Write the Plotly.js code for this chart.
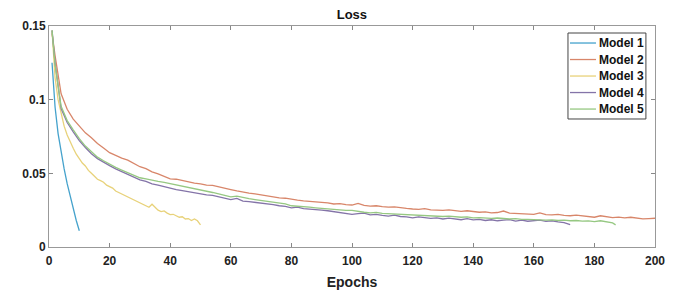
<!DOCTYPE html>
<html>
<head>
<meta charset="utf-8">
<script src="https://cdn.plot.ly/plotly-3.0.1.min.js"></script>
<style>
  html, body { margin: 0; padding: 0; background: #fff; }
  #chart { width: 680px; height: 291px; }
</style>
</head>
<body>
<div id="chart"></div>
<script>
// ---- Data ----
const seriesNames = ["Model 1", "Model 2", "Model 3", "Model 4", "Model 5"];

const epochsM1 = [1, 2, 3, 4, 5, 6, 7, 8, 9, 10];
const lossM1 = [0.125, 0.095, 0.077, 0.064, 0.053, 0.043, 0.034, 0.026, 0.018, 0.011];

function seq(a, b, s) { const r = []; for (let v = a; v <= b; v += s) r.push(v); return r; }

const epochsM2 = [1].concat(seq(2, 200, 2));
const lossM2 = [
  0.1450, 0.1300, 0.1040, 0.0935, 0.0868, 0.0822, 0.0775, 0.0742, 0.0703, 0.0672,
  0.0640, 0.0622, 0.0603, 0.0590, 0.0568, 0.0545, 0.0532, 0.0510, 0.0496, 0.0481,
  0.0462, 0.0460, 0.0450, 0.0441, 0.0434, 0.0428, 0.0420, 0.0418, 0.0407, 0.0398,
  0.0390, 0.0381, 0.0372, 0.0366, 0.0360, 0.0352, 0.0345, 0.0341, 0.0333, 0.0331,
  0.0322, 0.0318, 0.0313, 0.0310, 0.0307, 0.0300, 0.0299, 0.0292, 0.0294, 0.0287,
  0.0285, 0.0296, 0.0282, 0.0278, 0.0280, 0.0274, 0.0270, 0.0272, 0.0265, 0.0262,
  0.0258, 0.0255, 0.0260, 0.0252, 0.0250, 0.0248, 0.0252, 0.0245, 0.0242, 0.0246,
  0.0240, 0.0236, 0.0238, 0.0232, 0.0234, 0.0244, 0.0230, 0.0228, 0.0231, 0.0225,
  0.0222, 0.0232, 0.0220, 0.0218, 0.0221, 0.0215, 0.0212, 0.0216, 0.0210, 0.0206,
  0.0202, 0.0212, 0.0205, 0.0200, 0.0203, 0.0198, 0.0202, 0.0195, 0.0191, 0.0193,
  0.0195
];

const epochsM3 = seq(1, 50, 1);
const lossM3 = [
  0.147, 0.115, 0.100, 0.090, 0.082, 0.076, 0.071, 0.067, 0.063, 0.060,
  0.057, 0.055, 0.052, 0.050, 0.048, 0.046, 0.045, 0.044, 0.042, 0.041,
  0.040, 0.038, 0.037, 0.036, 0.035, 0.034, 0.033, 0.032, 0.031, 0.030,
  0.029, 0.028, 0.027, 0.029, 0.027, 0.025, 0.024, 0.0245, 0.023, 0.022,
  0.0222, 0.021, 0.0202, 0.0205, 0.019, 0.0193, 0.018, 0.019, 0.0178, 0.015
];

const epochsM4 = [1].concat(seq(2, 172, 2));
const lossM4 = [
  0.1470, 0.1250, 0.0940, 0.0845, 0.0782, 0.0722, 0.0675, 0.0633, 0.0600, 0.0574,
  0.0552, 0.0530, 0.0512, 0.0494, 0.0477, 0.0456, 0.0446, 0.0428, 0.0420, 0.0409,
  0.0400, 0.0390, 0.0383, 0.0375, 0.0368, 0.0362, 0.0354, 0.0350, 0.0341, 0.0336,
  0.0322, 0.0330, 0.0312, 0.0308, 0.0304, 0.0295, 0.0292, 0.0288, 0.0280, 0.0276,
  0.0266, 0.0270, 0.0260, 0.0258, 0.0252, 0.0250, 0.0246, 0.0240, 0.0238, 0.0228,
  0.0222, 0.0226, 0.0230, 0.0218, 0.0222, 0.0215, 0.0210, 0.0216, 0.0207, 0.0204,
  0.0198, 0.0205, 0.0200, 0.0194, 0.0198, 0.0190, 0.0196, 0.0188, 0.0185, 0.0192,
  0.0184, 0.0188, 0.0180, 0.0185, 0.0178, 0.0182, 0.0186, 0.0176, 0.0183, 0.0175,
  0.0176, 0.0182, 0.0174, 0.0178, 0.0170, 0.0166, 0.0152
];

const epochsM5 = [1].concat(seq(2, 186, 2), [187]);
const lossM5 = [
  0.1470, 0.1240, 0.0955, 0.0858, 0.0795, 0.0735, 0.0685, 0.0645, 0.0610, 0.0585,
  0.0560, 0.0540, 0.0522, 0.0505, 0.0490, 0.0470, 0.0462, 0.0452, 0.0445, 0.0438,
  0.0430, 0.0422, 0.0412, 0.0404, 0.0396, 0.0386, 0.0378, 0.0370, 0.0360, 0.0350,
  0.0340, 0.0345, 0.0335, 0.0328, 0.0322, 0.0316, 0.0310, 0.0306, 0.0300, 0.0292,
  0.0280, 0.0278, 0.0274, 0.0270, 0.0266, 0.0262, 0.0258, 0.0256, 0.0252, 0.0249,
  0.0248, 0.0240, 0.0236, 0.0232, 0.0235, 0.0228, 0.0226, 0.0222, 0.0224, 0.0219,
  0.0217, 0.0214, 0.0212, 0.0215, 0.0210, 0.0207, 0.0210, 0.0204, 0.0202, 0.0205,
  0.0198, 0.0200, 0.0195, 0.0194, 0.0197, 0.0191, 0.0190, 0.0193, 0.0187, 0.0188,
  0.0185, 0.0186, 0.0182, 0.0184, 0.0180, 0.0182, 0.0178, 0.0180, 0.0175, 0.0177,
  0.0172, 0.0178, 0.0168, 0.0163, 0.0150
];

const xTickVals = [0, 20, 40, 60, 80, 100, 120, 140, 160, 180, 200];
const yTickVals = [0, 0.05, 0.1, 0.15];
const yTickText = ["0", "0.05", "0.1", "0.15"];

// ---- Styles ----
const colors = ["#45a2cc", "#d8866a", "#e8d27a", "#8474a8", "#96c882"];
const xs = [epochsM1, epochsM2, epochsM3, epochsM4, epochsM5];
const ys = [lossM1, lossM2, lossM3, lossM4, lossM5];

const traces = seriesNames.map((n, i) => ({
  x: xs[i], y: ys[i], name: n, type: "scatter", mode: "lines",
  line: { color: colors[i], width: 1.3 }, showlegend: false
}));

const fam = "Liberation Sans, Arial, sans-serif";

// Compact MATLAB-style legend box (paper coordinates)
const legBox = { x0: 0.8564, x1: 0.985, y0: 0.5792, y1: 0.9683 };
const legFirstY = 0.923, legStep = 0.0747;
const legLineX0 = 0.8597, legLineX1 = 0.9026, legTextX = 0.9043;

const shapes = [{
  type: "rect", xref: "paper", yref: "paper",
  x0: legBox.x0, x1: legBox.x1, y0: legBox.y0, y1: legBox.y1,
  line: { color: "#444", width: 1 }, fillcolor: "#fff", layer: "above"
}];
const annotations = [];
seriesNames.forEach((n, i) => {
  const yy = legFirstY - i * legStep;
  shapes.push({
    type: "line", xref: "paper", yref: "paper",
    x0: legLineX0, x1: legLineX1, y0: yy, y1: yy,
    line: { color: colors[i], width: 1.3 }, layer: "above"
  });
  annotations.push({
    xref: "paper", yref: "paper", x: legTextX, y: yy,
    xanchor: "left", yanchor: "middle", showarrow: false,
    text: "<b>" + n + "</b>",
    font: { size: 12, family: fam, color: "#111" }
  });
});

const layout = {
  width: 680, height: 291,
  margin: { l: 49, r: 25, t: 26, b: 44, pad: 0 },
  paper_bgcolor: "#fff", plot_bgcolor: "#fff",
  font: { family: fam, color: "#1a1a1a" },
  title: { text: "<b>Loss</b>", font: { size: 13, family: fam, color: "#111" },
           x: 0.5175, xanchor: "center", y: 0.952, yanchor: "middle" },
  xaxis: {
    range: [0, 200], tickvals: xTickVals, ticktext: xTickVals.map(v => "<b>" + v + "</b>"),
    ticks: "inside", ticklen: 4, tickcolor: "#888", tickwidth: 1,
    showline: true, linecolor: "#999", linewidth: 1, mirror: "ticks",
    showgrid: false, zeroline: false, ticklabelstandoff: 3,
    tickfont: { size: 12, family: fam, color: "#222" },
    title: { text: "<b>Epochs</b>", font: { size: 14, family: fam, color: "#222" }, standoff: 9 }
  },
  yaxis: {
    range: [0, 0.15], tickvals: yTickVals, ticktext: yTickText.map(t => "<b>" + t + "</b>"),
    ticks: "inside", ticklen: 4, tickcolor: "#888", tickwidth: 1,
    showline: true, linecolor: "#999", linewidth: 1, mirror: "ticks",
    showgrid: false, zeroline: false,
    tickfont: { size: 12, family: fam, color: "#222" }
  },
  shapes: shapes,
  annotations: annotations,
  showlegend: false
};

Plotly.newPlot("chart", traces, layout, { staticPlot: true, displayModeBar: false });
</script>
</body>
</html>
